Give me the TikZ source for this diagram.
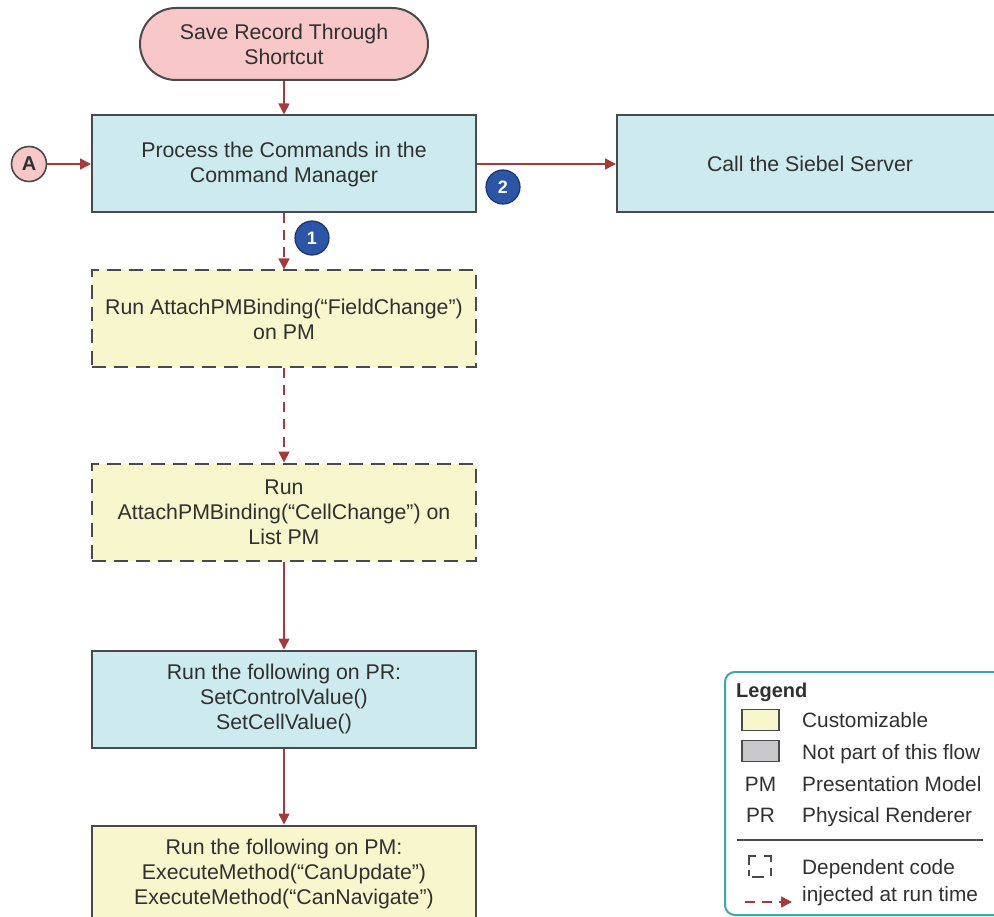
\documentclass[tikz,border=0pt]{standalone}
\usepackage{fontspec}
\setmainfont{Liberation Sans}
\usetikzlibrary{arrows.meta,shapes.misc}
\definecolor{txt}{HTML}{303030}
\definecolor{bord}{HTML}{4A4A4A}
\definecolor{arr}{HTML}{A33A3D}
\definecolor{cyanfill}{HTML}{CDEBEF}
\definecolor{yelfill}{HTML}{F8F6CC}
\definecolor{pinkfill}{HTML}{F8C8C8}
\definecolor{grayfill}{HTML}{C8C8CA}
\definecolor{badge}{HTML}{2D55A6}
\definecolor{badgeb}{HTML}{1C336E}
\definecolor{teal}{HTML}{3BA7A7}
\tikzset{
  every node/.style={text=txt},
  box/.style={draw=bord, line width=2pt, minimum width=384pt, minimum height=97pt,
    align=center, font=\fontsize{21.3}{25}\selectfont, inner sep=0pt},
  cyanbox/.style={box, fill=cyanfill},
  yelbox/.style={box, fill=yelfill},
  dashbox/.style={yelbox, dash pattern=on 14pt off 8pt},
  flow/.style={draw=arr, line width=1.6pt, -{Triangle[length=11pt,width=11pt]}},
  dflow/.style={flow, dash pattern=on 10pt off 7pt},
  badgenode/.style={circle, fill=badge, draw=badgeb, line width=1.2pt, minimum size=34pt,
    inner sep=0pt, text=white, font=\fontsize{18}{18}\selectfont\bfseries},
  legtext/.style={anchor=base west, font=\fontsize{20.8}{24}\selectfont, inner sep=0pt},
  legabbr/.style={anchor=base, font=\fontsize{20.8}{24}\selectfont, inner sep=0pt},
  swatch/.style={draw=bord, line width=1.6pt, minimum width=37pt, minimum height=21pt, inner sep=0pt}
}
\begin{document}
\begin{tikzpicture}[x=1pt,y=-1pt]
\useasboundingbox (0,0) rectangle (994,917);
\begin{scope}
\clip (0,0) rectangle (994,917);
% start terminal
\node[rounded rectangle, draw=bord, line width=2pt, fill=pinkfill, minimum width=288pt,
  minimum height=72pt, align=center, font=\fontsize{21.3}{25}\selectfont, inner sep=0pt]
  (start) at (284,44) {Save Record Through\\Shortcut};
% process
\node[cyanbox] (proc) at (284,164) {Process the Commands in the\\Command Manager};
% connector A
\node[circle, draw=bord, line width=1.6pt, fill=pinkfill, minimum size=35pt, inner sep=0pt,
  font=\fontsize{20}{20}\selectfont\bfseries] (A) at (29,164) {A};
% siebel
\node[cyanbox, minimum width=386pt] (sieb) at (810,164) {Call the Siebel Server};
% field change
\node[dashbox] (field) at (284,319) {Run AttachPMBinding(“FieldChange”)\\on PM};
% cell change
\node[dashbox] (cell) at (284,512) {Run\\AttachPMBinding(“CellChange”) on\\List PM};
% PR
\node[cyanbox] (pr) at (284,699) {Run the following on PR:\\SetControlValue()\\SetCellValue()};
% PM
\node[yelbox] (pm) at (284,874) {Run the following on PM:\\ExecuteMethod(“CanUpdate”)\\ExecuteMethod(“CanNavigate”)};

% connectors
\draw[flow] (start) -- (proc);
\draw[flow] (A) -- (proc);
\draw[flow] (proc.east) -- (sieb.west);
\draw[dflow] (proc) -- (field);
\draw[dflow] (field) -- (cell);
\draw[flow] (cell) -- (pr);
\draw[flow] (pr) -- (pm);

% badges
\node[badgenode] (b1) at (312,238) {1};
\node[badgenode] (b2) at (503,187) {2};

% legend
\draw[teal, line width=2pt, rounded corners=10pt] (725,672) rectangle (1012,915);
\node[anchor=base west, inner sep=0pt, font=\fontsize{20}{24}\selectfont\bfseries] (lg) at (736,697) {Legend};
\node[swatch, fill=yelfill] (sw1) at (760.5,720) {};
\node[legtext] (l1) at (802,727) {Customizable};
\node[swatch, fill=grayfill] (sw2) at (760.5,751) {};
\node[legtext] (l2) at (802,759) {Not part of this flow};
\node[legabbr] (pmab) at (760.5,791) {PM};
\node[legtext] (l3) at (802,791) {Presentation Model};
\node[legabbr] (prab) at (760.5,822) {PR};
\node[legtext] (l4) at (802,822) {Physical Renderer};
\draw[bord, line width=1.4pt] (737,840) -- (983,840);
% dashed bracket icon
\draw[bord, line width=1.8pt] (756,856) -- (749,856) -- (749,865);
\draw[bord, line width=1.8pt] (764,856) -- (771,856) -- (771,862);
\draw[bord, line width=1.8pt] (749,870) -- (749,876);
\draw[bord, line width=1.8pt] (752,877) -- (764,877);
\draw[bord, line width=1.8pt] (771,868) -- (771,876);
\node[legtext] (l5) at (802,874) {Dependent code};
\node[legtext] (l6) at (802,901) {injected at run time};
\coordinate (la) at (745,902);
\coordinate (lb) at (792,902);
\draw[dflow] (la) -- (lb);
\end{scope}
\end{tikzpicture}
\end{document}
